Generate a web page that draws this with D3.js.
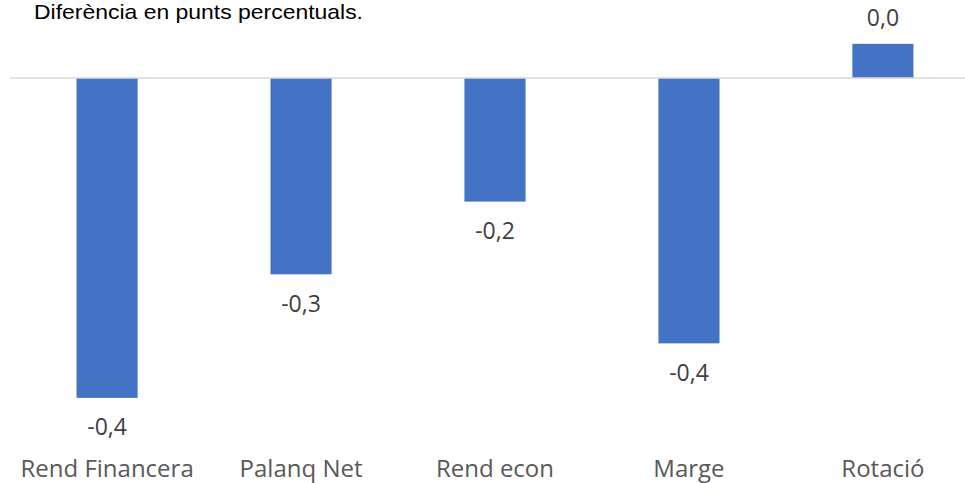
<!DOCTYPE html>
<html>
<head>
<meta charset="utf-8">
<script src="https://cdn.jsdelivr.net/npm/d3@7"></script>
<style>
  body { margin: 0; background: #fff; }
</style>
</head>
<body>
<div id="chart"></div>
<script>
var categories = ["Rend Financera", "Palanq Net", "Rend econ", "Marge", "Rotació"];
var values = [-0.44, -0.27, -0.17, -0.365, 0.047];
var title = "Diferència en punts percentuals.";

var width = 965, height = 483;

var svg = d3.select("#chart").append("svg")
    .attr("width", width)
    .attr("height", height);

// bands run off the right edge a little, like the original
var x = d3.scaleBand()
    .domain(categories)
    .range([10, 980])
    .paddingInner(0.685)
    .paddingOuter(0.343);

var y = d3.scaleLinear()
    .domain([-0.5, 0.1])
    .range([441.5, 5.3]);

var fmt = function(v) { return d3.format(".1f")(v).replace(".", ",").replace("−", "-"); };

var t = svg.append("text")
    .attr("x", 34)
    .attr("y", 19)
    .style("font-family", "Liberation Sans, Arial")
    .style("font-size", "21px")
    .style("fill", "#000")
    .text(title);
// stretch the title to the width it has in the original
t.attr("textLength", 329).attr("lengthAdjust", "spacingAndGlyphs");

// bars
svg.selectAll("rect.bar")
    .data(values)
  .enter().append("rect")
    .attr("class", "bar")
    .attr("x", function(d, i) { return x(categories[i]); })
    .attr("width", x.bandwidth())
    .attr("y", function(d) { return y(Math.max(0, d)); })
    .attr("height", function(d) { return Math.abs(y(d) - y(0)); })
    .style("fill", "#4472C4");

// zero line
svg.append("line")
    .attr("x1", 10).attr("x2", width)
    .attr("y1", y(0)).attr("y2", y(0))
    .style("stroke", "#d9d9d9")
    .style("stroke-width", 1.5);

// value labels
svg.selectAll("text.val")
    .data(values)
  .enter().append("text")
    .attr("class", "val")
    .attr("x", function(d, i) { return x(categories[i]) + x.bandwidth() / 2; })
    .attr("y", function(d) { return d < 0 ? y(d) + 37.5 : y(d) - 18; })
    .attr("text-anchor", "middle")
    .style("font-family", "Open Sans")
    .style("font-size", "23px")
    .style("fill", "#404040")
    .text(function(d) { return fmt(d); });

// category labels
var xAxis = d3.axisBottom(x).tickSize(0).tickPadding(0);
var gx = svg.append("g")
    .attr("transform", "translate(0,460)")
    .call(xAxis);
gx.select(".domain").remove();
gx.selectAll("text")
    .style("font-family", "Open Sans")
    .style("font-size", "24px")
    .style("fill", "#595959");
</script>
</body>
</html>
